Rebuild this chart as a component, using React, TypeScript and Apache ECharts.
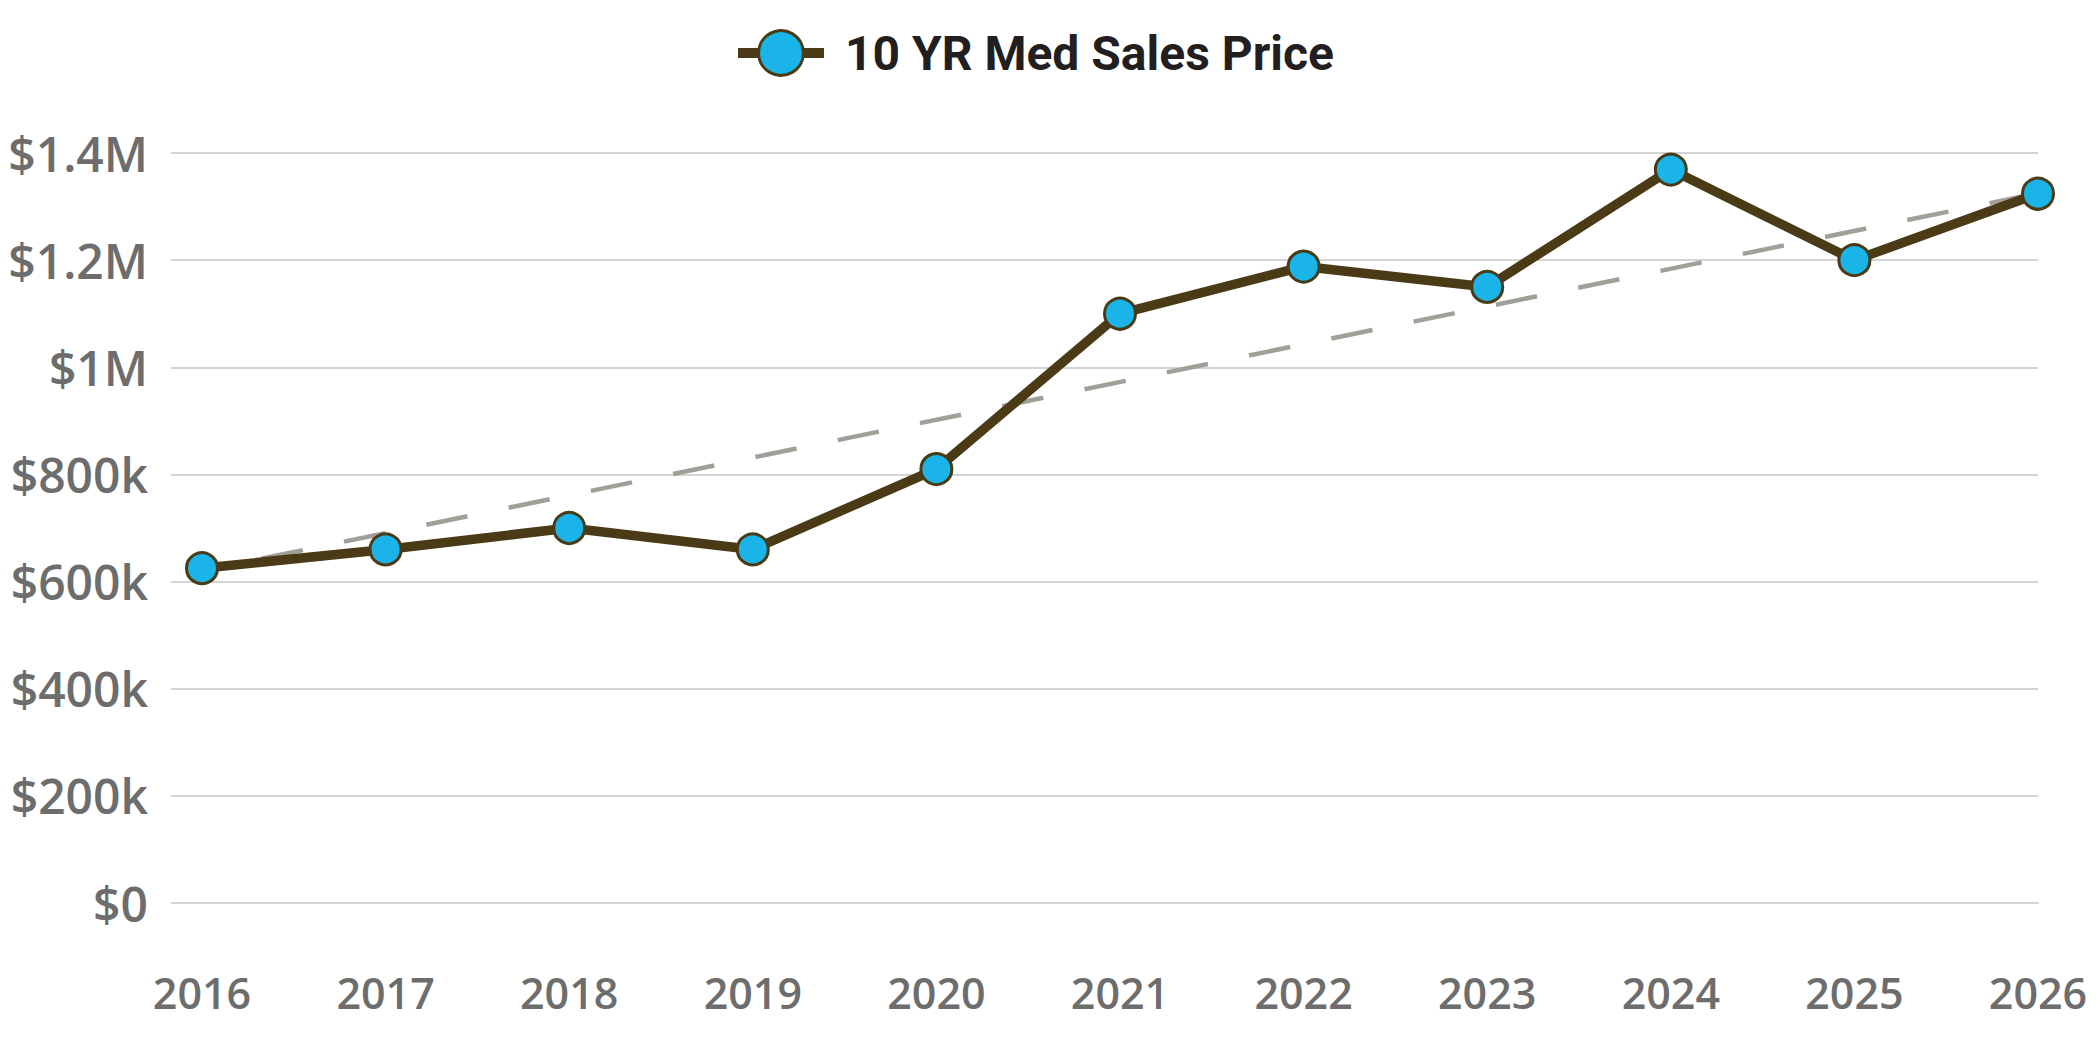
import React, { useEffect, useRef } from "react";
import * as echarts from "echarts";

const years = ["2016", "2017", "2018", "2019", "2020", "2021", "2022", "2023", "2024", "2025", "2026"];
const medSalesPrice = [625000, 660000, 700000, 660000, 810000, 1100000, 1188000, 1150000, 1369000, 1200000, 1324000];
// dashed trend, read at its two ends
const trendEnds = [
  ["2016", 620000],
  ["2026", 1325000],
];
const yTicks = [0, 200000, 400000, 600000, 800000, 1000000, 1200000, 1400000];

const seriesName = "10 YR Med Sales Price";
const brown = "#4a3a16";
const blue = "#1ab4e8";
const grey = "#6d6d6d";
const gridGrey = "#d4d4d4";

function money(v: number) {
  if (v === 0) return "$0";
  if (v >= 1000000) return "$" + v / 1000000 + "M";
  return "$" + v / 1000 + "k";
}

export default function App() {
  const chartRef = useRef<HTMLDivElement | null>(null);

  useEffect(() => {
    if (!chartRef.current) return;
    const chart = echarts.init(chartRef.current, null, { renderer: "svg" });
    const yMin = yTicks[0];
    const yMax = yTicks[yTicks.length - 1];
    const option = {
      animation: false,
      backgroundColor: "#ffffff",
      legend: {
        data: [seriesName],
        top: 24,
        left: 728,
        itemWidth: 86,
        itemHeight: 56,
        lineStyle: { width: 10, color: brown },
        itemStyle: { borderWidth: 3, borderColor: brown },
        textStyle: {
          fontFamily: "Roboto, sans-serif",
          fontWeight: "bold",
          fontSize: 48,
          color: "#231f20",
          padding: [0, 0, 0, 16],
        },
      },
      grid: [
        { left: 171, right: 62, top: 153, bottom: 147 },
        { left: 202, right: 62, top: 153, bottom: 147 },
      ],
      xAxis: [
        { type: "category", gridIndex: 0, data: years, show: false },
        {
          type: "category",
          gridIndex: 1,
          data: years,
          boundaryGap: false,
          offset: 54,
          axisLine: { lineStyle: { color: gridGrey, width: 2 } },
          axisTick: { show: false },
          axisLabel: {
            margin: 14,
            fontFamily: "Open Sans, sans-serif",
            fontWeight: 600,
            fontSize: 43,
            color: grey,
          },
        },
      ],
      yAxis: [
        {
          type: "value",
          gridIndex: 0,
          min: yMin,
          max: yMax,
          interval: 200000,
          axisLine: { show: false },
          axisTick: { show: false },
          splitLine: { lineStyle: { color: gridGrey, width: 2 } },
          axisLabel: {
            margin: 23,
            formatter: money,
            fontFamily: "Open Sans, sans-serif",
            fontWeight: 600,
            fontSize: 48,
            color: grey,
          },
        },
        { type: "value", gridIndex: 1, min: yMin, max: yMax, interval: 200000, show: false, splitLine: { show: false } },
      ],
      series: [
        {
          name: "trend",
          type: "line",
          xAxisIndex: 1,
          yAxisIndex: 1,
          data: trendEnds,
          symbol: "none",
          silent: true,
          z: 1,
          lineStyle: { color: "#a09f98", width: 4.5, type: [42, 42], dashOffset: 23 },
        },
        {
          name: seriesName,
          type: "line",
          xAxisIndex: 1,
          yAxisIndex: 1,
          data: medSalesPrice,
          z: 2,
          symbol: "circle",
          symbolSize: 31,
          lineStyle: { color: brown, width: 9.5 },
          itemStyle: { color: blue, borderColor: brown, borderWidth: 3 },
        },
      ],
    };
    chart.setOption(option);
    const resize = () => chart.resize();
    window.addEventListener("resize", resize);
    return () => {
      window.removeEventListener("resize", resize);
      chart.dispose();
    };
  }, []);

  return (
    <div style={{ position: "fixed", left: 0, top: 0, width: 2100, height: 1050, background: "#fff" }}>
      <div ref={chartRef} style={{ width: 2100, height: 1050 }} />
    </div>
  );
}
